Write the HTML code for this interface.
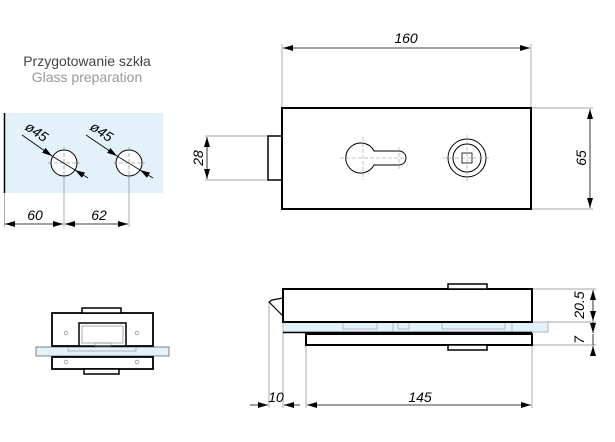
<!DOCTYPE html>
<html><head><style>html,body{margin:0;padding:0;background:#fff}svg{display:block}</style></head><body>
<svg width="615" height="442" viewBox="0 0 615 442" xmlns="http://www.w3.org/2000/svg" font-family="Liberation Sans, sans-serif">
<defs>
<marker id="a" viewBox="0 0 10 6" refX="10" refY="3" markerWidth="10" markerHeight="6" orient="auto-start-reverse" markerUnits="userSpaceOnUse"><path d="M0,0L10,3L0,6z" fill="#000"/></marker>
</defs>
<text x="87" y="66" font-size="14" text-anchor="middle" fill="#444">Przygotowanie szkła</text>
<text x="87" y="82" font-size="14" text-anchor="middle" fill="#999">Glass preparation</text>
<rect x="4" y="113" width="159" height="80" fill="#e3f1fb"/>
<line x1="4.5" y1="113" x2="4.5" y2="193" stroke="#000" stroke-width="1.5"/>
<line x1="4.5" y1="193" x2="4.5" y2="227" stroke="#888" stroke-width="0.7"/>
<g stroke="#000" fill="#fff" stroke-width="1">
<circle cx="64" cy="163" r="13"/><circle cx="129" cy="163" r="13"/>
</g>
<g stroke="#777" stroke-width="0.6" stroke-dasharray="4,2">
<line x1="48" y1="163" x2="80" y2="163"/><line x1="64" y1="147" x2="64" y2="179"/>
<line x1="113" y1="163" x2="145" y2="163"/><line x1="129" y1="147" x2="129" y2="179"/>
</g>
<g stroke="#888" stroke-width="0.7"><line x1="64" y1="176" x2="64" y2="227"/><line x1="129" y1="176" x2="129" y2="227"/></g>
<g stroke="#000" stroke-width="0.8">
<line x1="22" y1="135" x2="52" y2="156" marker-end="url(#a)"/>
<line x1="88" y1="178" x2="75" y2="170" marker-end="url(#a)"/>
<line x1="52" y1="156" x2="75" y2="170"/>
<line x1="86" y1="135" x2="117" y2="156" marker-end="url(#a)"/>
<line x1="153" y1="178" x2="140" y2="170" marker-end="url(#a)"/>
<line x1="117" y1="156" x2="140" y2="170"/>
<line x1="5" y1="224" x2="63" y2="224" marker-start="url(#a)" marker-end="url(#a)"/>
<line x1="65" y1="224" x2="128" y2="224" marker-start="url(#a)" marker-end="url(#a)"/>
</g>
<text font-size="14" font-style="italic" transform="translate(24,129) rotate(34)">ø45</text>
<text font-size="14" font-style="italic" transform="translate(89,129) rotate(34)">ø45</text>
<text x="35" y="220" font-size="14" font-style="italic" text-anchor="middle">60</text>
<text x="99" y="220" font-size="14" font-style="italic" text-anchor="middle">62</text>

<g stroke="#888" stroke-width="0.7">
<line x1="282" y1="44" x2="282" y2="108"/><line x1="531" y1="44" x2="531" y2="108"/>
<line x1="205" y1="136" x2="268" y2="136"/><line x1="205" y1="180" x2="268" y2="180"/>
<line x1="531" y1="108" x2="593" y2="108"/><line x1="531" y1="209" x2="593" y2="209"/>
</g>
<g stroke="#000" stroke-width="0.8">
<line x1="283" y1="48" x2="530" y2="48" marker-start="url(#a)" marker-end="url(#a)"/>
<line x1="207" y1="137" x2="207" y2="179" marker-start="url(#a)" marker-end="url(#a)"/>
<line x1="590" y1="109" x2="590" y2="208" marker-start="url(#a)" marker-end="url(#a)"/>
</g>
<text x="406" y="43" font-size="14" font-style="italic" text-anchor="middle">160</text>
<text font-size="14" font-style="italic" text-anchor="middle" transform="translate(203,158) rotate(-90)">28</text>
<text font-size="14" font-style="italic" text-anchor="middle" transform="translate(586,158) rotate(-90)">65</text>
<rect x="282" y="108" width="249" height="101" fill="none" stroke="#000" stroke-width="2"/>
<rect x="268" y="136" width="14" height="44" fill="none" stroke="#000" stroke-width="1.5"/>
<path d="M374,151 A15,15 0 1 0 374,165 L399,165 A7,7 0 0 0 399,151 Z" fill="none" stroke="#000" stroke-width="1"/>
<circle cx="467" cy="158" r="19" fill="none" stroke="#000" stroke-width="1"/>
<circle cx="467" cy="158" r="14" fill="none" stroke="#000" stroke-width="1"/>
<rect x="462" y="153" width="10" height="10" fill="none" stroke="#000" stroke-width="0.8"/>
<g stroke="#888" stroke-width="0.5" stroke-dasharray="4,2">
<line x1="340" y1="158" x2="407" y2="158"/><line x1="363" y1="137" x2="363" y2="180"/><line x1="399" y1="147" x2="399" y2="169"/>
<line x1="443" y1="158" x2="491" y2="158"/><line x1="467" y1="135" x2="467" y2="181"/>
</g>

<g stroke="#888" stroke-width="0.7">
<line x1="532" y1="289" x2="596" y2="289"/><line x1="548" y1="322" x2="596" y2="322"/><line x1="532" y1="345" x2="596" y2="345"/>
<line x1="269" y1="302" x2="269" y2="408"/><line x1="283" y1="332" x2="283" y2="408"/>
<line x1="306" y1="345" x2="306" y2="408"/><line x1="532" y1="345" x2="532" y2="408"/>
</g>
<rect x="283" y="322" width="265" height="10" fill="#e3f1fb" stroke="#888" stroke-width="0.6"/>
<g stroke="#999" stroke-width="0.6" fill="none">
<rect x="343" y="322" width="34" height="7"/><rect x="398" y="322" width="11" height="7"/><rect x="442" y="322" width="63" height="7"/>
<line x1="393" y1="322" x2="393" y2="332"/><line x1="512" y1="322" x2="512" y2="332"/>
</g>
<line x1="283" y1="332.5" x2="532" y2="332.5" stroke="#000" stroke-width="1.5"/>
<rect x="283" y="289" width="249" height="33" fill="none" stroke="#000" stroke-width="2"/>
<rect x="306" y="334" width="226" height="11" fill="#fff" stroke="#000" stroke-width="2"/>
<rect x="448" y="284" width="39" height="5" fill="#fff" stroke="#000" stroke-width="1.5"/>
<rect x="448" y="345" width="39" height="5" fill="#fff" stroke="#000" stroke-width="1.5"/>
<path d="M283,298 L272,300 L269,302 L283,316" fill="none" stroke="#000" stroke-width="1.2"/>
<g stroke="#000" stroke-width="0.8">
<line x1="593" y1="290" x2="593" y2="321" marker-start="url(#a)" marker-end="url(#a)"/>
<line x1="593" y1="322" x2="593" y2="333" marker-end="url(#a)"/>
<line x1="593" y1="355" x2="593" y2="346" marker-end="url(#a)"/>
<line x1="593" y1="334" x2="593" y2="345"/>
<line x1="250" y1="405" x2="268" y2="405" marker-end="url(#a)"/>
<line x1="300" y1="405" x2="284" y2="405" marker-end="url(#a)"/>
<line x1="307" y1="405" x2="531" y2="405" marker-start="url(#a)" marker-end="url(#a)"/>
</g>
<text font-size="14" font-style="italic" text-anchor="middle" transform="translate(584,305) rotate(-90)">20.5</text>
<text font-size="14" font-style="italic" text-anchor="middle" transform="translate(584,340) rotate(-90)">7</text>
<text x="276" y="402" font-size="14" font-style="italic" text-anchor="middle">10</text>
<text x="420" y="402" font-size="14" font-style="italic" text-anchor="middle">145</text>

<rect x="36" y="347" width="133" height="9" fill="#e3f1fb" stroke="#666" stroke-width="0.8"/>
<rect x="68" y="346" width="68" height="5" fill="none" stroke="#999" stroke-width="0.7"/>
<rect x="52" y="313" width="101" height="33" fill="none" stroke="#000" stroke-width="1.8"/>
<rect x="79" y="323" width="47" height="23" fill="#fff" stroke="#000" stroke-width="1.5"/>
<rect x="82" y="326" width="41" height="17" fill="none" stroke="#888" stroke-width="0.7"/>
<rect x="95" y="343" width="16" height="3" fill="none" stroke="#888" stroke-width="0.6"/>
<rect x="82" y="308" width="39" height="5" fill="#fff" stroke="#000" stroke-width="1.5"/>
<rect x="52" y="357" width="101" height="12" fill="#fff" stroke="#000" stroke-width="1.8"/>
<rect x="84" y="369" width="35" height="5" fill="#fff" stroke="#000" stroke-width="1.5"/>
<g fill="none" stroke="#999" stroke-width="0.8">
<circle cx="66" cy="333" r="1.8"/><circle cx="137" cy="333" r="1.8"/><circle cx="66" cy="362" r="1.8"/><circle cx="137" cy="362" r="1.8"/>
</g>
</svg>
</body></html>
